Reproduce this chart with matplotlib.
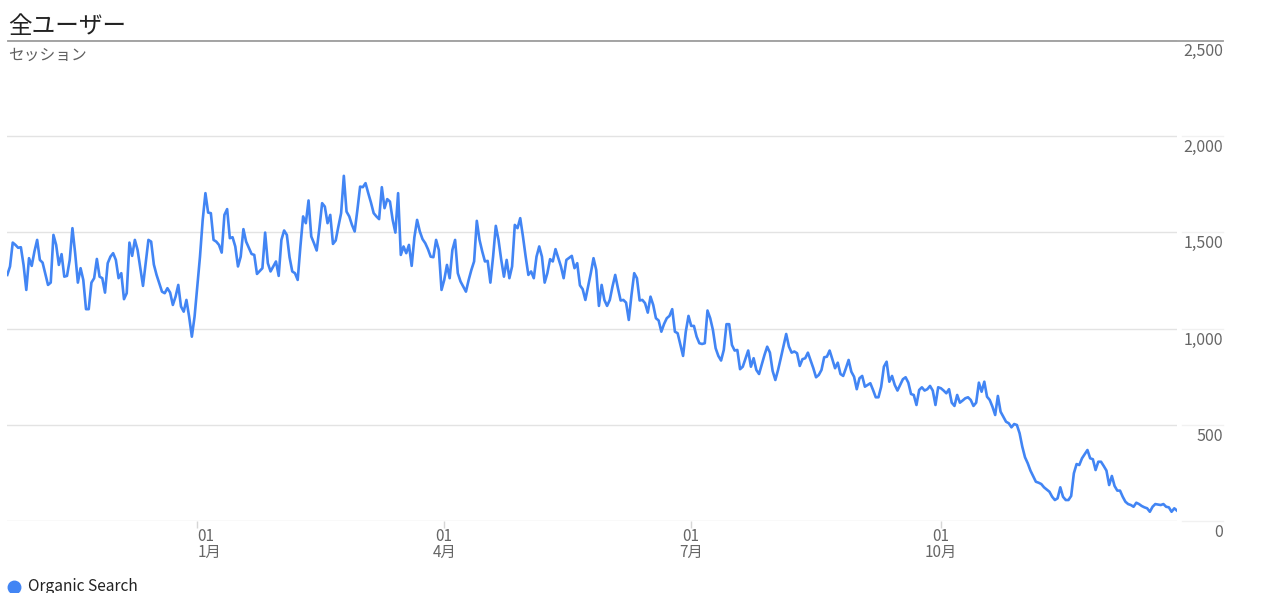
import datetime as dt
import matplotlib
matplotlib.use("Agg")
import matplotlib.pyplot as plt
from matplotlib.lines import Line2D
from matplotlib import transforms

plt.rcParams['font.family'] = ['Noto Sans CJK JP', 'DejaVu Sans']

# データ: 2019-10-23 からの経過日数とセッション数 (Organic Search)
start_date = dt.date(2019, 10, 23)
day_index = [
    0, 1, 2, 3, 4, 5, 6, 7, 8, 9, 10, 11, 12, 13, 15, 16, 17, 18, 19, 20,
    21, 22, 23, 24, 25, 26, 27, 28, 29, 30, 31, 32, 33, 34, 35, 36, 37, 38, 39, 40,
    41, 42, 43, 44, 45, 46, 47, 48, 50, 52, 53, 54, 55, 57, 58, 59, 60, 61, 62, 63,
    64, 65, 66, 67, 68, 69, 70, 71, 72, 73, 74, 75, 76, 77, 78, 79, 80, 81, 82, 83,
    84, 85, 86, 87, 88, 90, 91, 92, 94, 95, 96, 97, 98, 99, 100, 101, 102, 103, 104, 105,
    106, 107, 108, 109, 110, 111, 112, 113, 114, 115, 116, 117, 118, 119, 120, 121, 122, 123, 124, 125,
    126, 127, 128, 129, 130, 131, 132, 133, 134, 135, 136, 137, 138, 139, 140, 141, 142, 143, 144, 145,
    146, 147, 148, 149, 150, 151, 152, 153, 154, 155, 156, 157, 158, 159, 160, 161, 162, 163, 164, 165,
    166, 167, 169, 170, 171, 172, 173, 174, 175, 176, 177, 178, 179, 180, 181, 182, 183, 184, 185, 186,
    187, 188, 189, 190, 191, 192, 193, 194, 195, 196, 197, 198, 199, 200, 201, 202, 204, 205, 206, 208,
    209, 210, 211, 212, 213, 215, 216, 217, 218, 219, 220, 221, 222, 223, 224, 225, 226, 227, 228, 229,
    230, 231, 232, 233, 234, 235, 236, 237, 238, 239, 240, 241, 242, 243, 244, 245, 246, 247, 249, 250,
    251, 252, 253, 254, 255, 256, 257, 258, 259, 260, 261, 262, 263, 264, 265, 266, 267, 268, 269, 270,
    271, 273, 274, 275, 276, 277, 279, 280, 281, 282, 283, 284, 285, 287, 288, 289, 290, 291, 292, 293,
    294, 295, 296, 297, 298, 299, 300, 301, 302, 303, 304, 305, 306, 307, 308, 309, 310, 311, 312, 313,
    314, 315, 316, 317, 318, 319, 320, 321, 322, 323, 324, 325, 326, 327, 328, 329, 330, 331, 332, 333,
    334, 335, 336, 337, 338, 339, 340, 341, 342, 343, 344, 345, 346, 347, 348, 349, 350, 351, 352, 353,
    354, 355, 356, 357, 358, 359, 360, 361, 362, 363, 364, 365, 366, 367, 368, 369, 370, 371, 372, 373,
    374, 375, 376, 377, 379, 380, 381, 382, 384, 385, 386, 387, 388, 389, 390, 391, 392, 393, 394, 395,
    396, 397, 398, 399, 400, 401, 402, 403, 404, 405, 406, 407, 408, 409, 410, 411, 412, 413, 414, 415,
    416, 417, 418, 419, 420, 421, 422, 423, 425, 426, 427, 428, 429, 430, 431,
]
sessions = [
    1279, 1323, 1447, 1435, 1420, 1423, 1330, 1201, 1366, 1326, 1401, 1461, 1357, 1343, 1227, 1239, 1487, 1435, 1331, 1387,
    1270, 1274, 1357, 1522, 1392, 1239, 1314, 1253, 1101, 1101, 1239, 1262, 1362, 1270, 1262, 1187, 1340, 1374, 1392, 1357,
    1262, 1288, 1153, 1184, 1447, 1378, 1461, 1409, 1222, 1461, 1452, 1333, 1279, 1192, 1184, 1210, 1187, 1123, 1166, 1227,
    1115, 1088, 1149, 1062, 958, 1062, 1219, 1374, 1565, 1704, 1603, 1600, 1461, 1452, 1435, 1395, 1591, 1621, 1470, 1475,
    1427, 1323, 1374, 1517, 1452, 1388, 1383, 1284, 1314, 1499, 1340, 1297, 1323, 1349, 1274, 1461, 1510, 1487, 1371, 1297,
    1288, 1253, 1427, 1583, 1548, 1666, 1479, 1444, 1406, 1522, 1652, 1634, 1548, 1591, 1440, 1458, 1531, 1600, 1794, 1608,
    1583, 1539, 1505, 1617, 1738, 1735, 1756, 1704, 1655, 1600, 1583, 1569, 1735, 1626, 1673, 1660, 1565, 1499, 1704, 1383,
    1427, 1392, 1435, 1326, 1475, 1565, 1505, 1465, 1444, 1413, 1374, 1371, 1461, 1409, 1201, 1253, 1331, 1262, 1409, 1461,
    1288, 1245, 1192, 1253, 1305, 1349, 1560, 1461, 1401, 1349, 1352, 1239, 1374, 1534, 1461, 1357, 1270, 1357, 1262, 1323,
    1539, 1522, 1574, 1479, 1374, 1279, 1297, 1262, 1374, 1427, 1374, 1239, 1288, 1361, 1349, 1413, 1323, 1262, 1357, 1378,
    1314, 1340, 1225, 1205, 1149, 1288, 1366, 1305, 1118, 1227, 1149, 1118, 1149, 1219, 1279, 1210, 1146, 1149, 1135, 1045,
    1175, 1288, 1262, 1146, 1149, 1132, 1083, 1166, 1123, 1054, 1042, 984, 1024, 1054, 1066, 1101, 984, 976, 858, 984,
    1066, 1014, 1014, 958, 924, 920, 924, 1094, 1054, 993, 898, 858, 834, 889, 1023, 1023, 915, 886, 889, 789,
    802, 886, 802, 846, 785, 764, 863, 906, 875, 780, 733, 785, 846, 972, 907, 875, 881, 872, 806, 841,
    846, 875, 834, 794, 747, 759, 785, 851, 854, 886, 841, 794, 823, 764, 754, 794, 837, 776, 750, 685,
    742, 754, 698, 707, 716, 681, 643, 643, 698, 802, 828, 724, 754, 707, 678, 707, 737, 747, 719, 660,
    655, 603, 681, 695, 678, 685, 702, 678, 603, 695, 690, 678, 664, 685, 615, 598, 655, 615, 626, 638,
    643, 629, 598, 615, 719, 672, 724, 646, 629, 594, 551, 650, 568, 542, 516, 508, 487, 504, 499, 456,
    386, 331, 300, 262, 204, 199, 192, 175, 152, 126, 109, 118, 175, 126, 109, 109, 130, 248, 296, 291,
    326, 348, 369, 326, 321, 265, 308, 308, 286, 262, 187, 234, 182, 158, 158, 126, 100, 88, 83, 74,
    95, 88, 78, 71, 66, 48, 74, 88, 83, 88, 74, 71, 48, 66, 54,
]

tick_dates = [dt.date(2020, 1, 1), dt.date(2020, 4, 1), dt.date(2020, 7, 1), dt.date(2020, 10, 1)]
tick_months = ['1月', '4月', '7月', '10月']
y_ticks = [0, 500, 1000, 1500, 2000, 2500]

line_color = '#4285f4'
W, H = 1264, 593

fig = plt.figure(figsize=(W / 100, H / 100), dpi=100)
ax = fig.add_axes([7.3 / W, (H - 521) / H, (1177 - 7.3) / W, (521 - 40) / H])

ax.plot(day_index, sessions, color=line_color, lw=1.9, solid_joinstyle='round', zorder=3)

ax.set_xlim(0, 431)
ax.set_ylim(0, 2500)
for s in ax.spines.values():
    s.set_visible(False)

# 横グリッド
ax.set_yticks(y_ticks)
ax.yaxis.grid(True, color='#e3e3e3', lw=1.0)
ax.tick_params(axis='y', length=0, labelleft=False, labelright=False)

# 右側の目盛りラベル
ytrans = transforms.offset_copy(ax.get_yaxis_transform(), fig=fig, x=0, y=-16, units='dots')
for v in y_ticks:
    ax.text((1223 - 7.3) / (1177 - 7.3), v, f'{v:,}', transform=ytrans, ha='right',
            va='baseline', fontsize=11.5, color='#666666', clip_on=False)
    if v < 2500:
        fig.add_artist(Line2D([1182 / W, 1223 / W], [(H - 521 + v / 2500 * 481) / H] * 2,
                              color='#f1f1f1', lw=1.0))

# x 軸の目盛り (日付 + 月の2行ラベル)
tick_pos = [(d - start_date).days for d in tick_dates]
ax.set_xticks(tick_pos)
ax.set_xticklabels([])
ax.tick_params(axis='x', length=5, width=1, color='#d6d6d6', direction='out')
xtrans = transforms.offset_copy(ax.get_xaxis_transform(), fig=fig, x=0, y=-7, units='dots')
for i, (p, m) in enumerate(zip(tick_pos, tick_months)):
    ha = 'left' if i == 0 else 'center'
    ax.text(p, 0, '01\n' + m, transform=xtrans, ha=ha, va='top', multialignment=ha,
            linespacing=0.92, fontsize=11, color='#666666')

# タイトルと下線
fig.text(8 / W, (H - 33) / H, '全ユーザー', fontsize=17, color='#222222', va='baseline', ha='left')
fig.add_artist(Line2D([8 / W, 1223 / W], [(H - 40.5) / H] * 2, color='#9e9e9e', lw=1.3))
fig.text(8 / W, (H - 60) / H, 'セッション', fontsize=11.3, color='#5f5f5f', va='baseline', ha='left')

# 凡例
fig.add_artist(Line2D([14 / W], [(H - 587) / H], marker='o', markersize=9, color=line_color, lw=0))
fig.text(28 / W, (H - 591) / H, 'Organic Search', fontsize=11.2, color='#222222', va='baseline', ha='left')

fig.savefig('out.png', dpi=100)
